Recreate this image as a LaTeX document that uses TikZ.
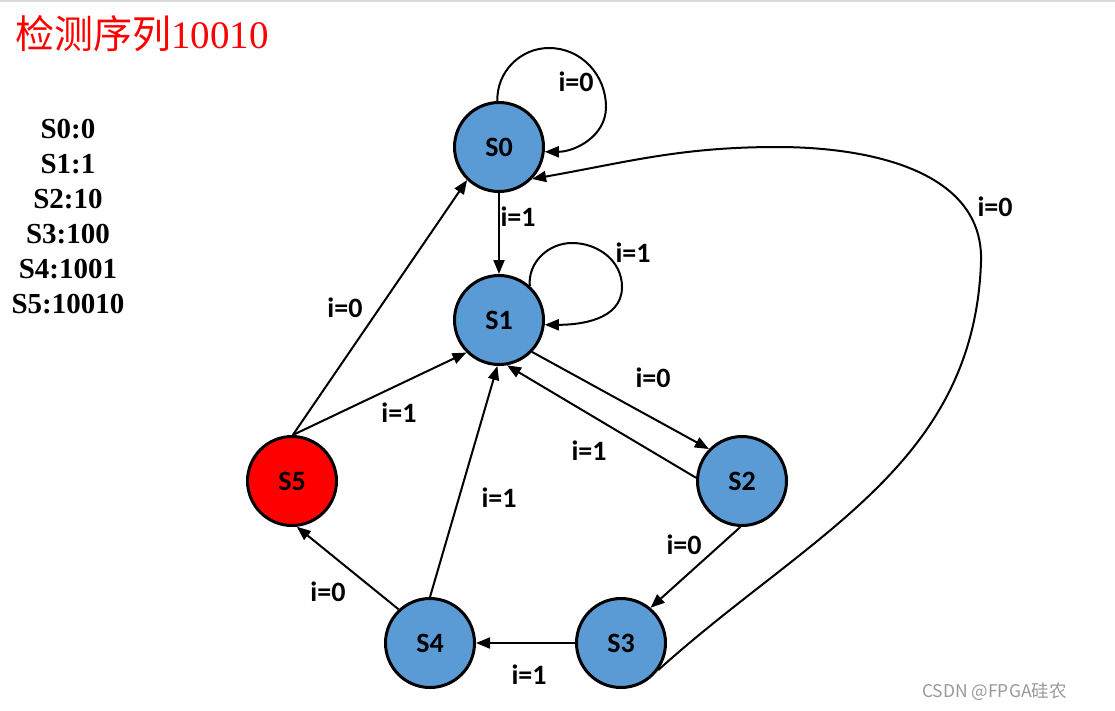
\documentclass[tikz,border=0pt]{standalone}
\usepackage{fontspec}
\setmainfont{Liberation Serif}
\newfontfamily\lblfont{Carlito}
\newfontfamily\cjkfont{Noto Sans CJK SC}
\usetikzlibrary{arrows.meta}
\definecolor{stateblue}{HTML}{5B9BD5}
\tikzstyle{state}=[circle,draw=black,line width=3pt,fill=stateblue,minimum size=89pt,inner sep=0pt,font=\lblfont\bfseries\fontsize{28}{32}\selectfont]
\tikzstyle{cond}=[inner sep=0pt,font=\lblfont\bfseries\fontsize{28}{32}\selectfont]
\tikzstyle{code}=[inner sep=0pt,anchor=base,font=\bfseries\fontsize{29}{34}\selectfont]

\begin{document}
\begin{tikzpicture}[x=1pt,y=1pt,line width=2pt,->,>={Triangle[length=14pt,width=11pt]}]
          \useasboundingbox (0,0) rectangle (1115,-710);
          \draw[-,black!15,line width=1.5pt] (0,-0.75) -- (1115,-0.75);
          \node[anchor=base west,inner sep=0pt,text=red,font=\fontsize{39}{42}\selectfont] (title) at (14,-48) {{\cjkfont 检测序列}10010};
          \foreach \i/\txt in {0/S0:0, 1/S1:1, 2/S2:10, 3/S3:100, 4/S4:1001, 5/S5:10010}
            \node[code] (code-\i) at (68,-138-35*\i) {\txt};
          \foreach \name/\x/\y in {S0/499/147, S1/499/320, S2/742/481, S3/621/643, S4/430/643}
            \node[state] (\name) at (\x,-\y) {\name};
          \node[state,fill=red] (S5) at (292,-481) {S5};
          \foreach \from/\a/\to/\b in {S0/-90/S1/90, S1/-44/S2/136, S2/176/S1/-80, S2/-92/S3/50,
                                        S3/180/S4/0, S4/133/S5/-84, S4/90/S1/-92, S5/89/S0/-134, S5/89/S1/-135}
            \draw (\from.\a) -- (\to.\b);
          \draw (S0.92) to[out=92,in=180] (549,-48) to[out=0,in=90] (606,-107) to[out=-90,in=0] (S0.-6);
          \draw (S1.48) to[out=95,in=180] (572,-243) to[out=0,in=90] (622,-287) to[out=-90,in=0] (S1.-6);
          \draw (S3.-36) to[out=42,in=-92] (981,-262) to[out=88,in=0] (777,-147) to[out=180,in=10] (S0.-44);
          \foreach \name/\x/\y/\txt in {c-00/576/82/i=0, c-01/518/217/i=1, c-11/633/253/i=1, c-12/653/378/i=0,
                                        c-21/589/451/i=1, c-23/684/545/i=0, c-34/529/675/i=1, c-30/995/207/i=0,
                                        c-45/328/592/i=0, c-41/499/498/i=1, c-50/345/308/i=0, c-51/399/413/i=1}
            \node[cond] (\name) at (\x,-\y) {\txt};
          \node[anchor=base west,inner sep=0pt,text=black!40,font=\cjkfont\fontsize{17.5}{20}\selectfont] (mark) at (921,-697) {CSDN @FPGA硅农};
        \end{tikzpicture}
\end{document}
